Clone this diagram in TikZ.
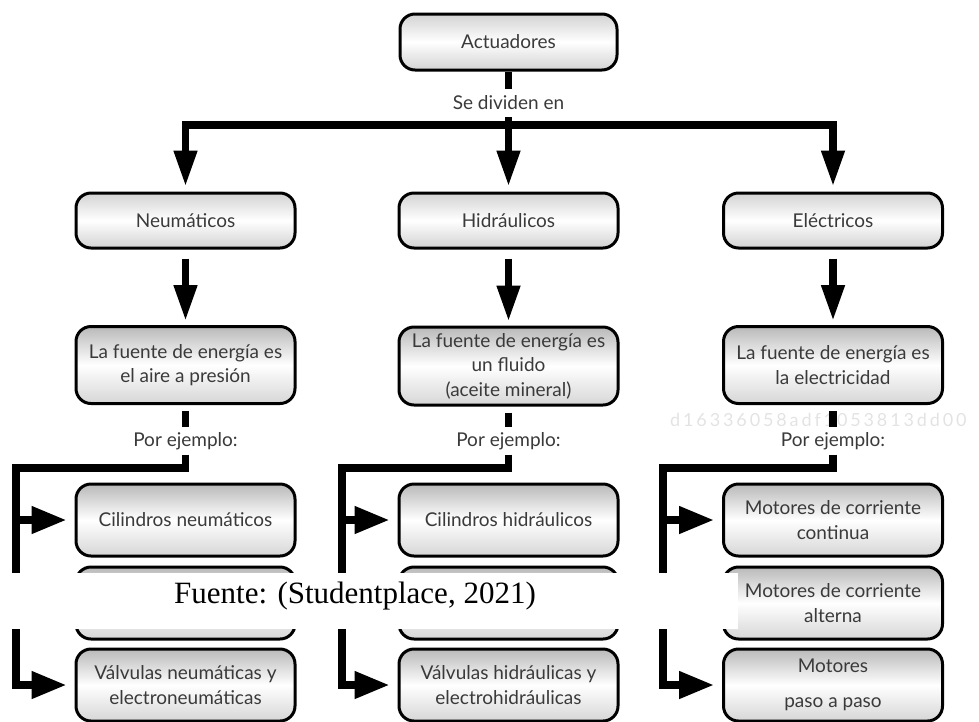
\documentclass[tikz,border=0pt]{standalone}
\usepackage{fontspec}
\setmainfont{Lato}
\newfontfamily\capfont{Liberation Serif}
\newfontfamily\wmfont[LetterSpace=16]{Lato}
\usetikzlibrary{arrows.meta,shadings}
\definecolor{txt}{HTML}{3A3A3A}
\begin{document}
\begin{tikzpicture}[x=1pt,y=-1pt,
  box/.style={draw=black, line width=3pt, rounded corners=15pt, minimum width=219pt,
    align=center, text=txt, font=\fontsize{19}{24.5}\selectfont, inner sep=0pt},
  lightbox/.style={box, top color=gray!35, bottom color=gray!35, middle color=white},
  darkbox/.style={box, top color=gray!55, bottom color=gray!32, middle color=white},
  conn/.style={line width=7.5pt, line join=miter, draw=black},
  varrow/.style={-{Triangle[length=36pt,width=22pt]}},
  harrow/.style={-{Triangle[length=35pt,width=26pt]}},
  lbl/.style={text=txt, font=\fontsize{19}{24.5}\selectfont, inner sep=0pt, minimum height=27pt},
  wm/.style={text=gray!22, font=\wmfont\fontsize{18}{18}\selectfont, inner sep=0pt}
]
\useasboundingbox (0,0) rectangle (979,721);
\clip (0,0) rectangle (979,721);

% watermark
\node[wm, anchor=base west] (wmark) at (670,426) {d16336058adf1053813dd00};

% top
\node[lightbox, minimum width=217pt, minimum height=56pt] (act) at (508.5,42) {Actuadores};
\node[lbl, minimum height=28pt] (sd) at (508.5,103) {Se dividen en};
\coordinate (bar) at (508.5,125);

% row 2
\node[lightbox, minimum height=55pt] (neu) at (185.5,220.5) {Neumáticos};
\node[lightbox, minimum height=55pt] (hid) at (508.5,220.5) {Hidráulicos};
\node[lightbox, minimum height=55pt] (ele) at (833,220.5) {Eléctricos};

% row 3
\node[darkbox, minimum height=77pt] (neuF) at (185.5,365) {La fuente de energía es\\el aire a presión};
\node[darkbox, minimum height=78pt] (hidF) at (508.5,366) {La fuente de energía es\\un fluido\\(aceite mineral)};
\node[darkbox, minimum height=77pt] (eleF) at (833,365) {La fuente de energía es\\la electricidad};

% labels
\node[lbl] (pe1) at (185.5,441) {Por ejemplo:};
\node[lbl] (pe2) at (508.5,441) {Por ejemplo:};
\node[lbl] (pe3) at (833,441) {Por ejemplo:};

% row 4
\node[darkbox, minimum height=72pt] (n1) at (185.5,520) {Cilindros neumáticos};
\node[darkbox, minimum height=72pt] (n2) at (185.5,603) {};
\node[darkbox, minimum height=72pt] (n3) at (185.5,685) {Válvulas neumáticas y\\electroneumáticas};
\node[darkbox, minimum height=72pt] (h1) at (508.5,520) {Cilindros hidráulicos};
\node[darkbox, minimum height=72pt] (h2) at (508.5,603) {};
\node[darkbox, minimum height=72pt] (h3) at (508.5,685) {Válvulas hidráulicas y\\electrohidráulicas};
\node[darkbox, minimum height=72pt] (e1) at (833,520) {Motores de corriente\\continua};
\node[darkbox, minimum height=72pt] (e2) at (833,603) {Motores de corriente\\alterna};
\node[darkbox, minimum height=72pt] (e3) at (833,685) {Motores\\[11pt]paso a paso};

% bus coordinates
\coordinate (t1) at (16,468);  \coordinate (m1) at (16,520);  \coordinate (u1) at (16,685);
\coordinate (t2) at (342,468); \coordinate (m2) at (342,520); \coordinate (u2) at (342,685);
\coordinate (t3) at (663,468); \coordinate (m3) at (663,520); \coordinate (u3) at (663,685);

% top connectors
\draw[conn] (act) -- (sd);
\draw[conn] (sd) -- (bar);
\draw[conn,varrow,shorten >=5pt] (bar) -| (neu);
\draw[conn,varrow,shorten >=5pt] (bar) -- (hid);
\draw[conn,varrow,shorten >=5pt] (bar) -| (ele);

% row2 -> row3
\draw[conn,varrow,shorten <=9pt,shorten >=4pt] (neu) -- (neuF);
\draw[conn,varrow,shorten <=9pt,shorten >=4pt] (hid) -- (hidF);
\draw[conn,varrow,shorten <=9pt,shorten >=4pt] (ele) -- (eleF);

% row3 -> labels
\draw[conn,shorten <=6pt] (neuF) -- (pe1);
\draw[conn,shorten <=6pt] (hidF) -- (pe2);
\draw[conn,shorten <=6pt] (eleF) -- (pe3);

% buses
\draw[conn,harrow,shorten >=8pt] (pe1) |- (t1) -- (u1) -- (n3);
\draw[conn,harrow,shorten >=8pt] (m1) -- (n1);
\draw[conn,harrow,shorten >=8pt] (pe2) |- (t2) -- (u2) -- (h3);
\draw[conn,harrow,shorten >=8pt] (m2) -- (h1);
\draw[conn,harrow,shorten >=8pt] (pe3) |- (t3) -- (u3) -- (e3);
\draw[conn,harrow,shorten >=8pt] (m3) -- (e1);

% caption band
\fill[white] (0,573) rectangle (738,629);
\node[font=\capfont\fontsize{31}{31}\selectfont, anchor=base, inner sep=0pt] (cap) at (355,603) {Fuente: (Studentplace, 2021)};
\end{tikzpicture}
\end{document}
